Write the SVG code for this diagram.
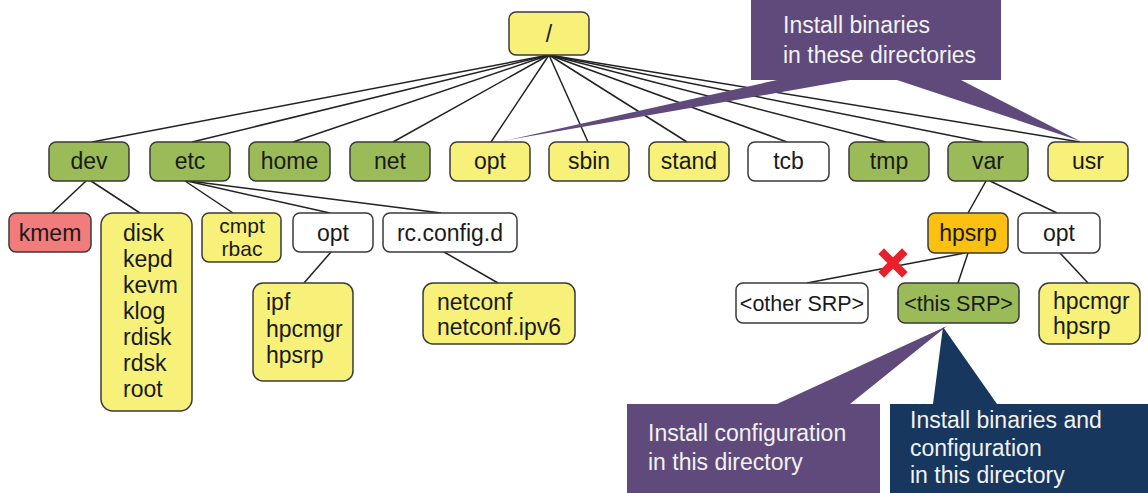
<svg xmlns="http://www.w3.org/2000/svg" width="1148" height="493" viewBox="0 0 1148 493">
<style>
.n rect{stroke:#3a3a3a;stroke-width:1.5}
.y rect{fill:#f7f17a}
.g rect{fill:#9bbb59}
.w rect{fill:#ffffff}
.r rect{fill:#f27c7c}
.o rect{fill:#fcc010}
text{font-family:"Liberation Sans",Arial,sans-serif;font-size:23px;fill:#1a1a1a}
.c{text-anchor:middle}
.s{font-size:21px}
.ct{fill:#f2f2f2}
#connectors line{stroke:#222;stroke-width:1.5}
</style>
<rect width="1148" height="493" fill="#ffffff"/>
<g id="connectors">
<line x1="549" y1="55" x2="92" y2="142"/>
<line x1="549" y1="55" x2="192" y2="142"/>
<line x1="549" y1="55" x2="293" y2="142"/>
<line x1="549" y1="55" x2="393" y2="142"/>
<line x1="549" y1="55" x2="491" y2="142"/>
<line x1="549" y1="55" x2="588" y2="142"/>
<line x1="549" y1="55" x2="687" y2="142"/>
<line x1="549" y1="55" x2="787" y2="142"/>
<line x1="549" y1="55" x2="886" y2="142"/>
<line x1="549" y1="55" x2="983" y2="142"/>
<line x1="549" y1="55" x2="1080" y2="142"/>
<line x1="86" y1="181" x2="52" y2="213"/>
<line x1="91" y1="181" x2="140" y2="213"/>
<line x1="185" y1="181" x2="233" y2="213"/>
<line x1="187" y1="181" x2="330" y2="213"/>
<line x1="189" y1="181" x2="441" y2="213"/>
<line x1="331" y1="252" x2="304" y2="283"/>
<line x1="444" y1="252" x2="498" y2="283"/>
<line x1="986" y1="181" x2="968" y2="213"/>
<line x1="990" y1="181" x2="1057" y2="213"/>
<line x1="965" y1="253" x2="807" y2="283"/>
<line x1="968" y1="253" x2="958" y2="283"/>
<line x1="1060" y1="253" x2="1088" y2="283"/>
</g>
<g id="callout-binaries">
<path d="M751,0 H1001 V80 H961 L1080,141 L897,80 H850 L503,141 L777,80 H751 Z" fill="#5f4a7b"/>
<text class="ct" x="783" y="33">Install binaries</text>
<text class="ct" x="783" y="63">in these directories</text>
</g>
<g id="callout-config">
<path d="M627,404 H777 L947,326 L850,404 H880 V493 H627 Z" fill="#5f4a7b"/>
<text class="ct" x="648" y="441">Install configuration</text>
<text class="ct" x="648" y="470">in this directory</text>
</g>
<g id="callout-both">
<path d="M890,404 H933 L943,327 L997,404 H1148 V493 H890 Z" fill="#17375e"/>
<text class="ct" x="910" y="428">Install binaries and</text>
<text class="ct" x="910" y="456">configuration</text>
<text class="ct" x="910" y="483">in this directory</text>
</g>
<g id="root" class="n y"><rect x="509" y="12" width="80" height="43" rx="7"/><text class="c" x="549" y="42">/</text></g>
<g id="dev" class="n g"><rect x="49" y="142" width="80" height="39" rx="7"/><text class="c" x="89" y="169">dev</text></g>
<g id="etc" class="n g"><rect x="150" y="142" width="80" height="39" rx="7"/><text class="c" x="190" y="169">etc</text></g>
<g id="home" class="n g"><rect x="249" y="142" width="81" height="39" rx="7"/><text class="c" x="289.5" y="169">home</text></g>
<g id="net" class="n g"><rect x="350" y="142" width="80" height="39" rx="7"/><text class="c" x="390" y="169">net</text></g>
<g id="opt" class="n y"><rect x="450" y="142" width="80" height="39" rx="7"/><text class="c" x="490" y="169">opt</text></g>
<g id="sbin" class="n y"><rect x="549" y="142" width="80" height="39" rx="7"/><text class="c" x="589" y="169">sbin</text></g>
<g id="stand" class="n y"><rect x="649" y="142" width="80" height="39" rx="7"/><text class="c" x="689" y="169">stand</text></g>
<g id="tcb" class="n w"><rect x="748" y="142" width="81" height="39" rx="7"/><text class="c" x="788.5" y="169">tcb</text></g>
<g id="tmp" class="n g"><rect x="849" y="142" width="80" height="39" rx="7"/><text class="c" x="889" y="169">tmp</text></g>
<g id="var" class="n g"><rect x="948" y="142" width="80" height="39" rx="7"/><text class="c" x="988" y="169">var</text></g>
<g id="usr" class="n y"><rect x="1048" y="142" width="80" height="39" rx="7"/><text class="c" x="1088" y="169">usr</text></g>
<g id="kmem" class="n r"><rect x="9" y="213" width="82" height="39" rx="7"/><text class="c" x="50" y="241">kmem</text></g>
<g id="dev-list" class="n y"><rect x="101" y="213" width="91" height="198" rx="12"/>
<text x="123" y="241">disk</text><text x="123" y="267">kepd</text><text x="123" y="293">kevm</text><text x="123" y="319">klog</text><text x="123" y="345">rdisk</text><text x="123" y="371">rdsk</text><text x="123" y="397">root</text></g>
<g id="cmpt-rbac" class="n y"><rect x="202" y="213" width="79" height="49" rx="7"/><text class="c s" x="242" y="233">cmpt</text><text class="c s" x="242" y="256">rbac</text></g>
<g id="etc-opt" class="n w"><rect x="293" y="213" width="80" height="39" rx="7"/><text class="c" x="333" y="241">opt</text></g>
<g id="rc-config-d" class="n w"><rect x="383" y="213" width="134" height="39" rx="7"/><text class="c" x="450" y="241">rc.config.d</text></g>
<g id="etc-opt-list" class="n y"><rect x="253" y="283" width="100" height="98" rx="10"/><text x="266" y="310">ipf</text><text x="266" y="337">hpcmgr</text><text x="266" y="363">hpsrp</text></g>
<g id="netconf" class="n y"><rect x="423" y="283" width="152" height="61" rx="10"/><text x="437" y="310">netconf</text><text x="437" y="335">netconf.ipv6</text></g>
<g id="hpsrp" class="n o"><rect x="928" y="213" width="80" height="40" rx="7"/><text class="c" x="968" y="241">hpsrp</text></g>
<g id="var-opt" class="n w"><rect x="1018" y="213" width="82" height="40" rx="7"/><text class="c" x="1059" y="241">opt</text></g>
<g id="other-srp" class="n w"><rect x="736" y="283" width="132" height="40" rx="7"/><text class="c" x="802" y="311" style="font-size:21.5px">&lt;other SRP&gt;</text></g>
<g id="this-srp" class="n g"><rect x="898" y="283" width="121" height="40" rx="7"/><text class="c" x="958.5" y="311" style="font-size:21.5px">&lt;this SRP&gt;</text></g>
<g id="var-opt-list" class="n y"><rect x="1039" y="283" width="101" height="61" rx="10"/><text x="1053" y="309">hpcmgr</text><text x="1053" y="334">hpsrp</text></g>
<g id="cross"><path d="M884,254 L902,272 M902,254 L884,272" stroke="#e8202a" stroke-width="8" stroke-linecap="square" fill="none"/></g>
</svg>
